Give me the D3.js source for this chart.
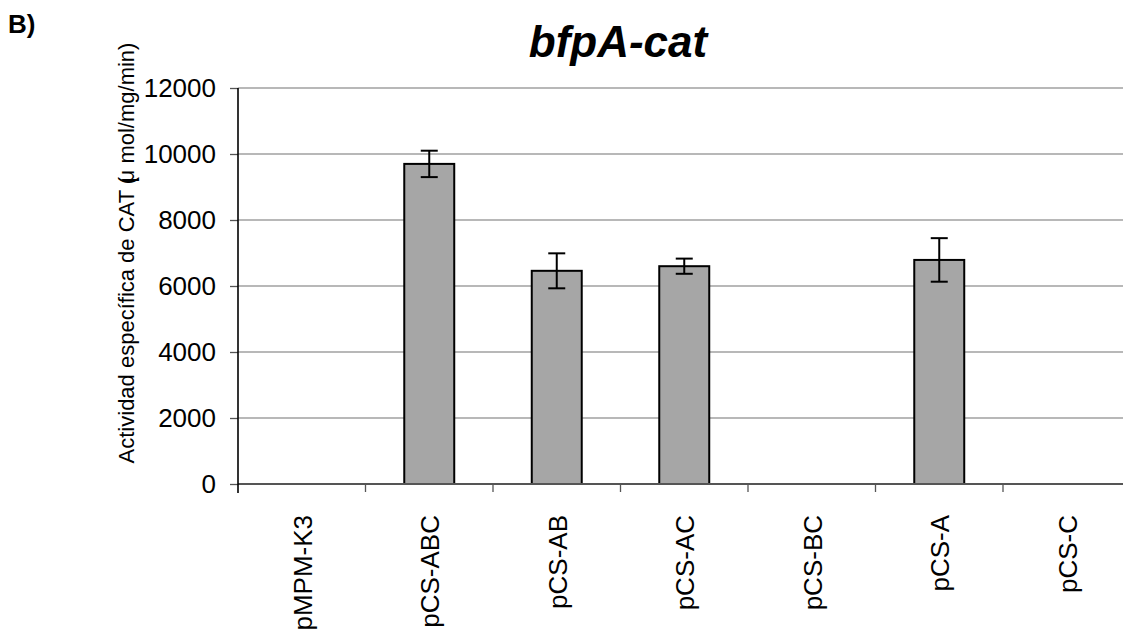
<!DOCTYPE html>
<html>
<head>
<meta charset="utf-8">
<script src="https://cdn.jsdelivr.net/npm/d3@7"></script>
<style>
  html, body { margin: 0; padding: 0; background: #fff; }
  svg { display: block; font-family: "Liberation Sans", Arial, sans-serif; }
</style>
</head>
<body>
<svg id="chart" width="1123" height="636"></svg>
<script>
// CAT specific activity per construct (mean and error)
const categories = ["pMPM-K3", "pCS-ABC", "pCS-AB", "pCS-AC", "pCS-BC", "pCS-A", "pCS-C"];
const values = [0, 9700, 6460, 6600, 0, 6790, 0];
const errors = [0, 400, 530, 230, 0, 660, 0];
const yTicks = [0, 2000, 4000, 6000, 8000, 10000, 12000];

const svg = d3.select("#chart");
const plot = { left: 238, right: 1130.5, top: 88, bottom: 484 };

const x = d3.scaleBand().domain(categories).range([plot.left, plot.right]).padding(0);
const y = d3.scaleLinear().domain([0, 12000]).range([plot.bottom, plot.top]);
const barW = x.bandwidth() * 0.392;

const rows = categories.map((c, i) => ({ c, v: values[i], e: errors[i] }));

// panel letter
svg.append("text").attr("x", 8).attr("y", 33)
  .attr("font-size", 26).attr("font-weight", "bold").text("B)");

// title
svg.append("text").attr("x", 618).attr("y", 57).attr("text-anchor", "middle")
  .attr("font-size", 44).attr("font-weight", "bold").attr("font-style", "italic")
  .text("bfpA-cat");

// horizontal gridlines
svg.append("g").selectAll("line").data(yTicks.filter(d => d > 0)).join("line")
  .attr("x1", plot.left).attr("x2", plot.right)
  .attr("y1", d => y(d)).attr("y2", d => y(d))
  .attr("stroke", "#a0a0a0").attr("stroke-width", 1.3);

// bars
svg.append("g").selectAll("rect").data(rows.filter(d => d.v > 0)).join("rect")
  .attr("x", d => x(d.c) + x.bandwidth() / 2 - barW / 2)
  .attr("y", d => y(d.v))
  .attr("width", barW)
  .attr("height", d => y(0) - y(d.v))
  .attr("fill", "#a6a6a6").attr("stroke", "#000").attr("stroke-width", 2);

// error bars
const eg = svg.append("g").attr("stroke", "#000").attr("stroke-width", 2);
rows.filter(d => d.e > 0).forEach(d => {
  const cx = x(d.c) + x.bandwidth() / 2;
  eg.append("line").attr("x1", cx).attr("x2", cx).attr("y1", y(d.v + d.e)).attr("y2", y(d.v - d.e));
  [d.v + d.e, d.v - d.e].forEach(v => {
    eg.append("line").attr("x1", cx - 8.5).attr("x2", cx + 8.5).attr("y1", y(v)).attr("y2", y(v));
  });
});

// y axis
const yAxis = d3.axisLeft(y).tickValues(yTicks).tickSize(8).tickPadding(14).tickFormat(d3.format("d"));
const gy = svg.append("g").attr("transform", `translate(${plot.left},0)`).call(yAxis);
gy.select(".domain").remove();
gy.selectAll(".tick line").attr("stroke", "#555").attr("stroke-width", 1.3);
gy.selectAll(".tick text").attr("font-size", 26).attr("fill", "#000")
  .attr("font-family", "'Liberation Sans', Arial, sans-serif");

// x axis line and category boundary ticks
svg.append("line").attr("x1", plot.left).attr("x2", plot.right)
  .attr("y1", y(0)).attr("y2", y(0)).attr("stroke", "#555").attr("stroke-width", 2);
svg.append("g").selectAll("line").data(categories.slice(1)).join("line")
  .attr("x1", d => x(d)).attr("x2", d => x(d))
  .attr("y1", y(0)).attr("y2", y(0) + 8)
  .attr("stroke", "#555").attr("stroke-width", 1.3);
svg.append("line").attr("x1", plot.left).attr("x2", plot.left)
  .attr("y1", plot.top).attr("y2", y(0) + 9).attr("stroke", "#000").attr("stroke-width", 1.6);

// rotated category labels
svg.append("g").selectAll("text").data(categories).join("text")
  .attr("transform", d => `translate(${x(d) + x.bandwidth() / 2 + 1},515) rotate(-90)`)
  .attr("text-anchor", "end").attr("dy", "0.35em")
  .attr("font-size", 26).text(d => d);

// y axis title
const yl = svg.append("text")
  .attr("transform", "translate(134,253) rotate(-90)")
  .attr("text-anchor", "middle").attr("font-size", 22);
yl.append("tspan").text("Actividad específica de CAT (");
yl.append("tspan").attr("dx", "-0.25em").text("μ");
yl.append("tspan").text(" mol/mg/min)");
</script>
</body>
</html>
